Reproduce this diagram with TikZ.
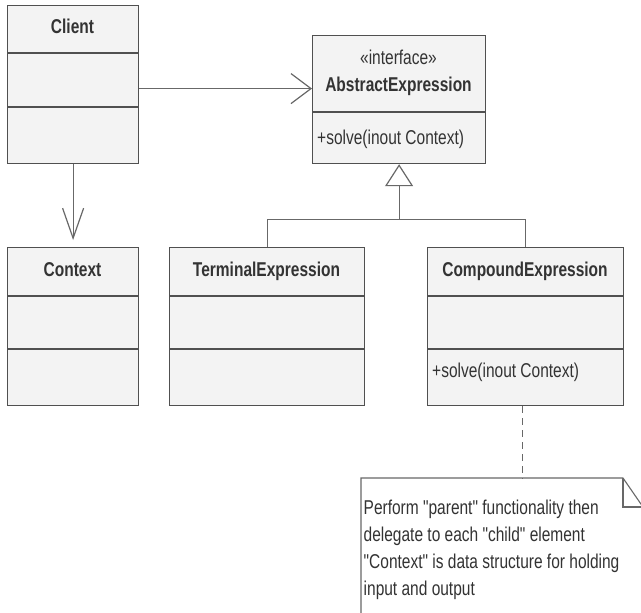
\documentclass[tikz,border=0pt]{standalone}
\usepackage{fontspec}
\newfontfamily\umlfont{Liberation Sans}[FakeStretch=0.775]
\usetikzlibrary{arrows.meta,calc}
\definecolor{umltext}{HTML}{333333}
\definecolor{umlfill}{HTML}{F3F3F3}
\definecolor{umlborder}{HTML}{505050}
\definecolor{umlline}{HTML}{686868}
\begin{document}
\begin{tikzpicture}[x=1pt,y=-1pt,
  classbox/.style={draw=umlborder, fill=umlfill, line width=1.2pt, inner sep=0pt, anchor=north west},
  divider/.style={draw=umlborder, line width=1.1pt},
  ttl/.style={font=\umlfont\bfseries\fontsize{20}{24}\selectfont, text=umltext, anchor=base, inner sep=0pt},
  txt/.style={font=\umlfont\fontsize{20}{24}\selectfont, text=umltext, anchor=base west, inner sep=0pt},
  link/.style={draw=umlline, line width=1.2pt},
  notestyle/.style={draw=umlline, line width=1.1pt},
  notetext/.style={font=\umlfont\fontsize{20}{27}\selectfont, text=umltext, anchor=north west, align=left, inner sep=0pt}]
\useasboundingbox (0,0) rectangle (641,613);
\fill[white] (0,0) rectangle (641,613);

% Client
\node[classbox, minimum width=131pt, minimum height=158pt] (client) at (7,5) {};
\draw[divider] (7,53) -- (138,53);
\draw[divider, line width=1.7pt] (7,107) -- (138,107);
\node[ttl] (clientname) at (72.5,34) {Client};

% AbstractExpression
\node[classbox, minimum width=173pt, minimum height=128pt] (abstract) at (312,35) {};
\draw[divider] (312,112) -- (485,112);
\node[ttl, font=\umlfont\fontsize{20}{24}\selectfont] (stereo) at (398.5,64) {«interface»};
\node[ttl] (abstractname) at (398.5,91) {AbstractExpression};
\node[txt] (abstractop) at (317,144) {+solve(inout Context)};

% Context
\node[classbox, minimum width=131pt, minimum height=158pt] (context) at (7,247) {};
\draw[divider] (7,296) -- (138,296);
\draw[divider] (7,349) -- (138,349);
\node[ttl] (contextname) at (72.5,276) {Context};

% TerminalExpression
\node[classbox, minimum width=195pt, minimum height=158pt] (terminal) at (169,247) {};
\draw[divider] (169,296) -- (364,296);
\draw[divider] (169,349) -- (364,349);
\node[ttl] (terminalname) at (266.5,276) {TerminalExpression};

% CompoundExpression
\node[classbox, minimum width=196pt, minimum height=158pt] (compound) at (427,247) {};
\draw[divider] (427,296) -- (623,296);
\draw[divider] (427,349) -- (623,349);
\node[ttl] (compoundname) at (525,276) {CompoundExpression};
\node[txt] (compoundop) at (432,377) {+solve(inout Context)};

% Association Client -> AbstractExpression
\coordinate (ca) at ([yshift=-4pt]client.east);
\draw[link, -{Straight Barb[length=20pt,width=30pt,line width=1.2pt]}] (ca) -- (ca -| abstract.west);

% Association Client -> Context
\draw[link, shorten >=7pt, -{Straight Barb[length=30pt,width=21pt,line width=1.2pt]}] (client.south) -- (context.north);

% Generalization
\coordinate (junc) at ($(abstract.south)+(0,55)$);
\draw[link] (terminal.north) |- (junc) -| (compound.north);
\draw[link, -{Triangle[open, length=22pt, width=28pt, line width=1.2pt]}] (junc) -- (abstract.south);

% Note
\coordinate (nt) at ($(compound.south)+(-3,73)$);
\coordinate (ns) at ($(compound.south)+(-3,0)$);
\draw[link, dash pattern=on 7pt off 5pt] (ns) -- (nt);
\draw[notestyle] (361,630) -- (361,478) -- (623,478) -- (643,507) -- (643,630);
\draw[notestyle] (623,478) -- (623,507) -- (643,507);
\node[notetext] (note) at (363.5,499.5) {Perform "parent" functionality then\\delegate to each "child" element\\"Context" is data structure for holding\\input and output};
\end{tikzpicture}
\end{document}
